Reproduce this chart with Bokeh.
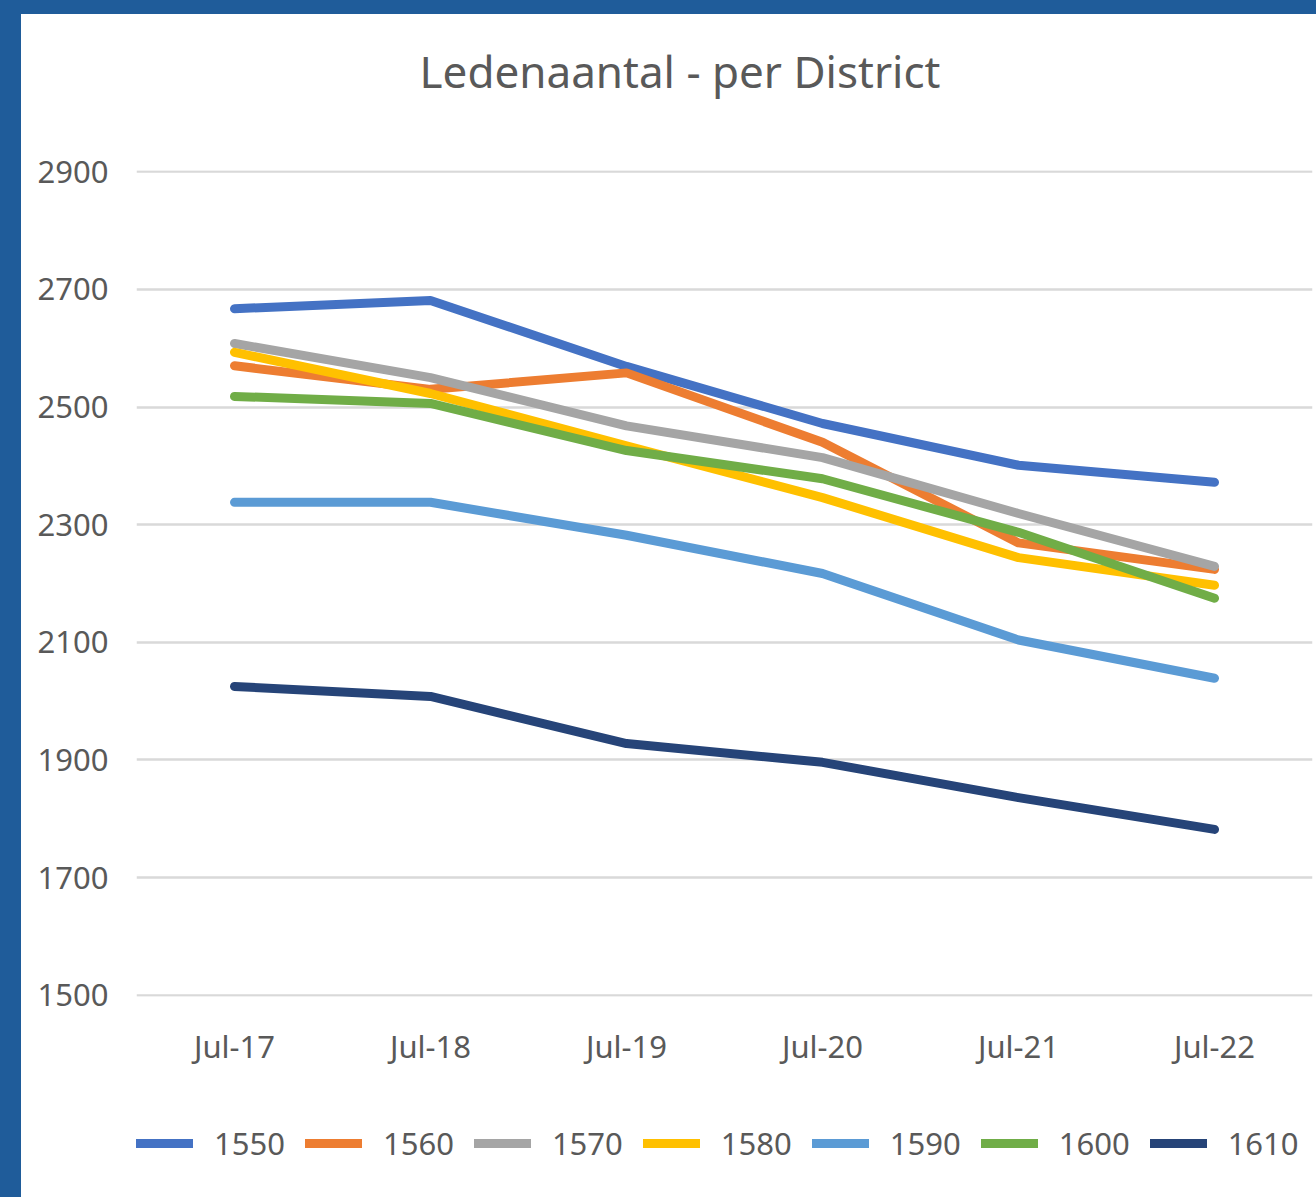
from bokeh.plotting import figure
from bokeh.models import FactorRange, Range1d, FixedTicker, Legend, LegendItem, Div
from bokeh.layouts import column, row
from bokeh.embed import file_html
from bokeh.resources import INLINE

months = ["Jul-17", "Jul-18", "Jul-19", "Jul-20", "Jul-21", "Jul-22"]
districts = ["1550", "1560", "1570", "1580", "1590", "1600", "1610"]
d1550 = [2667, 2681, 2569, 2472, 2401, 2372]
d1560 = [2570, 2530, 2558, 2440, 2269, 2224]
d1570 = [2608, 2550, 2468, 2414, 2319, 2229]
d1580 = [2593, 2523, 2434, 2346, 2244, 2197]
d1590 = [2338, 2338, 2282, 2217, 2104, 2039]
d1600 = [2518, 2506, 2426, 2378, 2287, 2175]
d1610 = [2025, 2008, 1928, 1896, 1836, 1782]
y_ticks = [1500, 1700, 1900, 2100, 2300, 2500, 2700, 2900]
title_text = "Ledenaantal - per District"

series = [d1550, d1560, d1570, d1580, d1590, d1600, d1610]
colors = ["#4472C4", "#ED7D31", "#A5A5A5", "#FFC000", "#5B9BD5", "#70AD47", "#264478"]

FONT = "Noto Sans"
TXT = "#595959"
BLUE = "#1F5C9A"

# main chart
p = figure(width=1295, height=940, x_range=FactorRange(*months),
           y_range=Range1d(1498, 2902), output_backend="svg",
           toolbar_location=None, min_border_left=115, min_border_right=4,
           min_border_top=20, min_border_bottom=94)
p.margin = 0
p.outline_line_color = None
p.background_fill_color = "white"
p.border_fill_color = "white"

p.xgrid.grid_line_color = None
p.ygrid.grid_line_color = "#D9D9D9"
p.ygrid.grid_line_width = 2.5

for ax in (p.xaxis, p.yaxis):
    ax.axis_line_color = None
    ax.major_tick_line_color = None
    ax.minor_tick_line_color = None
    ax.major_label_text_font = FONT
    ax.major_label_text_font_size = "31px"
    ax.major_label_text_color = TXT
p.yaxis.ticker = FixedTicker(ticks=y_ticks)
p.yaxis.major_label_standoff = 22
p.xaxis.major_label_standoff = 22

for vals, col in zip(series, colors):
    p.line(x=months, y=vals, line_color=col, line_width=9,
           line_cap="round", line_join="round")

# legend strip (same series styles; the lines themselves fall outside this strip's range)
leg = figure(width=1295, height=107, x_range=FactorRange(*months),
             y_range=Range1d(0, 1), output_backend="svg", toolbar_location=None,
             x_axis_location=None, y_axis_location=None,
             min_border_left=82, min_border_right=4, min_border_top=0,
             min_border_bottom=0)
leg.margin = 0
leg.outline_line_color = None
leg.grid.visible = False
leg.background_fill_color = "white"
leg.border_fill_color = "white"

items = []
for name, vals, col in zip(districts, series, colors):
    r = leg.line(x=months, y=vals, line_color=col, line_width=9, line_cap="round")
    items.append(LegendItem(label=name, renderers=[r]))

legend = Legend(items=items, orientation="horizontal", location=(0, 32),
                glyph_width=57, glyph_height=44, label_height=44,
                label_standoff=21, spacing=20,
                padding=0, margin=0, border_line_color=None,
                background_fill_alpha=0, label_text_font=FONT,
                label_text_font_size="31px", label_text_color=TXT)
leg.add_layout(legend)

title_div = Div(
    text=('<div style="width:1295px;box-sizing:border-box;padding-left:23px;'
          'text-align:center;margin-top:27px;font-family:\'Noto Sans\';'
          'font-size:44px;line-height:60px;color:%s;white-space:nowrap">%s</div>'
          % (TXT, title_text)),
    width=1295, height=136, margin=0, styles={"background-color": "white"})
top = Div(text="", width=1295, height=14, margin=0, styles={"background-color": BLUE})
left = Div(text="", width=21, height=1197, margin=0, styles={"background-color": BLUE})
layout = row(left, column(top, title_div, p, leg, spacing=0, margin=0),
             spacing=0, margin=0)

open("out.html", "w").write(file_html(layout, INLINE))
